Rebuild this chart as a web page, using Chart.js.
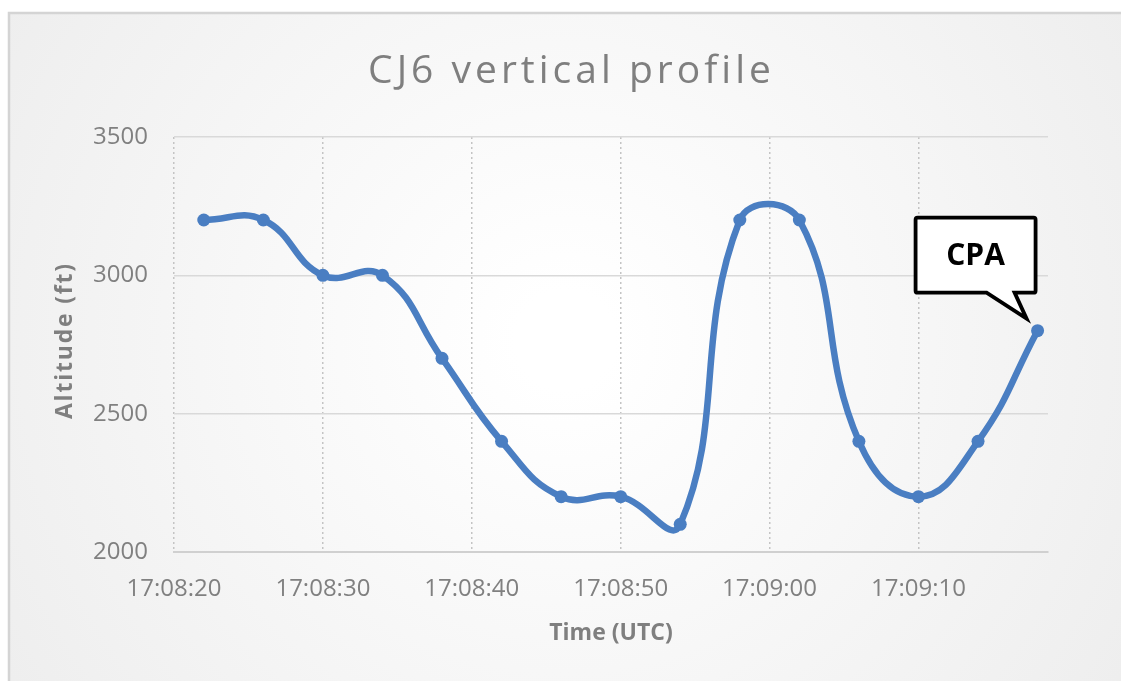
<!DOCTYPE html>
<html>
<head>
<meta charset="utf-8">
<script src="https://cdn.jsdelivr.net/npm/chart.js@4/dist/chart.umd.min.js"></script>
<style>
  html, body { margin: 0; padding: 0; background: #ffffff; }
  #wrap { position: relative; width: 1121px; height: 681px; }
</style>
</head>
<body>
<div id="wrap"><canvas id="c" width="1121" height="681"></canvas></div>
<script>
// Time in seconds after 17:08:20 UTC
const BASE_SECONDS = 17 * 3600 + 8 * 60 + 20;
const timeSeconds = [2, 6, 10, 14, 18, 22, 26, 30, 34, 38, 42, 46, 50, 54, 58];
const altitudeFt = [3200, 3200, 3000, 3000, 2700, 2400, 2200, 2200, 2100, 3200, 3200, 2400, 2200, 2400, 2800];
const xTickSeconds = [0, 10, 20, 30, 40, 50];
const yTickValues = [2000, 2500, 3000, 3500];
const chartTitle = 'CJ6 vertical profile';
const xTitle = 'Time (UTC)';
const yTitle = 'Altitude (ft)';
const calloutText = 'CPA';

function fmtTime(s) {
  const t = BASE_SECONDS + Math.round(s);
  const h = Math.floor(t / 3600), m = Math.floor((t % 3600) / 60), sec = t % 60;
  const p = n => String(n).padStart(2, '0');
  return h + ':' + p(m) + ':' + p(sec);
}

const points = timeSeconds.map((x, i) => ({ x: x, y: altitudeFt[i] }));

const bgPlugin = {
  id: 'bg',
  beforeDraw(chart) {
    const ctx = chart.ctx;
    ctx.save();
    ctx.fillStyle = '#ffffff';
    ctx.fillRect(0, 0, chart.width, chart.height);
    const g = ctx.createRadialGradient(565, 340, 50, 565, 340, 720);
    g.addColorStop(0, '#ffffff');
    g.addColorStop(1, '#ececec');
    ctx.fillStyle = g;
    ctx.fillRect(9, 13, 1120, 680);
    ctx.strokeStyle = '#d4d4d4';
    ctx.lineWidth = 2.5;
    ctx.strokeRect(9, 13, 1120, 680);
    ctx.restore();
  }
};

function spacedText(ctx, text, cx, cy, spacing) {
  ctx.letterSpacing = spacing + 'px';
  const w = ctx.measureText(text).width;
  ctx.textAlign = 'left';
  ctx.fillText(text, cx - (w - spacing) / 2, cy);
  ctx.letterSpacing = '0px';
}

const textPlugin = {
  id: 'texts',
  afterDraw(chart) {
    const ctx = chart.ctx;
    const area = chart.chartArea;
    ctx.save();
    // chart title
    ctx.fillStyle = '#7f7f7f';
    ctx.font = '39px "Open Sans", sans-serif';
    ctx.textBaseline = 'alphabetic';
    spacedText(ctx, chartTitle, 569.5, 83, 4);
    // y axis title (rotated)
    ctx.translate(65, (area.top + area.bottom) / 2 - 3);
    ctx.rotate(-Math.PI / 2);
    ctx.font = 'bold 23px "Open Sans", sans-serif';
    ctx.textBaseline = 'middle';
    spacedText(ctx, yTitle, 0, 0, 1.8);
    ctx.restore();
  }
};

const calloutPlugin = {
  id: 'callout',
  afterDatasetsDraw(chart) {
    const meta = chart.getDatasetMeta(0);
    const last = meta.data[meta.data.length - 1];
    const px = last.x, py = last.y;
    const ctx = chart.ctx;
    const L = px - 122, R = px - 2, T = py - 113, B = py - 38;
    const tipX = px - 11, tipY = py - 12;
    const tailA = px - 51, tailB = px - 23;
    const r = 2;
    ctx.save();
    ctx.beginPath();
    ctx.moveTo(L + r, T);
    ctx.lineTo(R - r, T);
    ctx.quadraticCurveTo(R, T, R, T + r);
    ctx.lineTo(R, B - r);
    ctx.quadraticCurveTo(R, B, R - r, B);
    ctx.lineTo(tailB, B);
    ctx.lineTo(tipX, tipY);
    ctx.lineTo(tailA, B);
    ctx.lineTo(L + r, B);
    ctx.quadraticCurveTo(L, B, L, B - r);
    ctx.lineTo(L, T + r);
    ctx.quadraticCurveTo(L, T, L + r, T);
    ctx.closePath();
    ctx.fillStyle = '#ffffff';
    ctx.fill();
    ctx.lineJoin = 'miter';
    ctx.lineWidth = 3.8;
    ctx.strokeStyle = '#000000';
    ctx.stroke();
    ctx.fillStyle = '#000000';
    ctx.font = 'bold 30px "Open Sans", sans-serif';
    ctx.textAlign = 'center';
    ctx.textBaseline = 'middle';
    ctx.fillText(calloutText, (L + R) / 2, (T + B) / 2 + 1);
    ctx.restore();
  }
};

new Chart(document.getElementById('c'), {
  type: 'line',
  data: {
    datasets: [{
      data: points,
      borderColor: '#4a7ec2',
      backgroundColor: '#4a7ec2',
      borderWidth: 6.5,
      pointRadius: 6.5,
      pointBorderWidth: 0,
      pointBackgroundColor: '#4a7ec2',
      tension: 0.45,
      fill: false
    }]
  },
  plugins: [bgPlugin, calloutPlugin, textPlugin],
  options: {
    responsive: false,
    animation: false,
    events: [],
    layout: { padding: { left: 0, right: 73, top: 137, bottom: 0 } },
    plugins: {
      legend: { display: false },
      tooltip: { enabled: false },
      title: { display: false }
    },
    scales: {
      x: {
        type: 'linear',
        min: 0,
        max: 58.7,
        afterBuildTicks(axis) { axis.ticks = xTickSeconds.map(v => ({ value: v })); },
        afterFit(axis) { axis.height = 129; },
        grid: { color: '#c4c4c4', lineWidth: 1.5, drawTicks: false },
        border: { display: true, color: '#d0d0d0', width: 2, dash: [2, 3] },
        ticks: {
          color: '#808080',
          padding: 23,
          maxRotation: 0,
          autoSkip: false,
          font: { family: '"Open Sans", sans-serif', size: 24 },
          callback: v => fmtTime(v)
        },
        title: {
          display: true,
          text: xTitle,
          color: '#7f7f7f',
          font: { family: '"Open Sans", sans-serif', size: 23, weight: 'bold', lineHeight: 1.2 },
          padding: { top: 0, bottom: 34 }
        }
      },
      y: {
        min: 2000,
        max: 3500,
        afterBuildTicks(axis) { axis.ticks = yTickValues.map(v => ({ value: v })); },
        afterFit(axis) { axis.width = 174; },
        grid: { color: '#d9d9d9', lineWidth: 1.5, drawTicks: false },
        border: { display: false },
        ticks: {
          color: '#808080',
          padding: 26,
          font: { family: '"Open Sans", sans-serif', size: 24 },
          callback: v => String(v)
        },
        title: { display: false }
      }
    }
  }
});
</script>
</body>
</html>
